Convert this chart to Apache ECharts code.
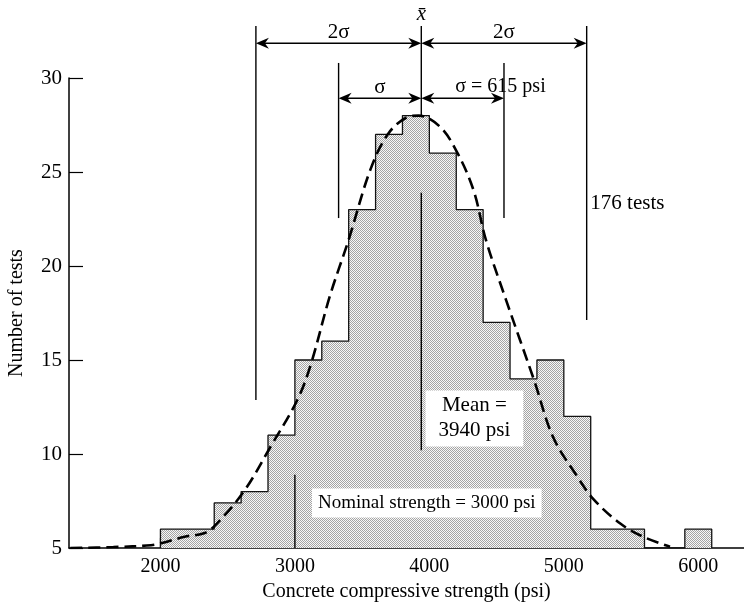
<!DOCTYPE html>
<html>
<head>
<meta charset="utf-8">
<script src="https://cdn.jsdelivr.net/npm/echarts@6/dist/echarts.min.js"></script>
<style>
  html, body { margin: 0; padding: 0; background: #fff; }
  #chart { width: 744px; height: 612px; }
</style>
</head>
<body>
<div id="chart"></div>
<script>
// Histogram: lower bin edge (psi) and bar height on the count axis
const binStart = [2000, 2200, 2400, 2600, 2800, 3000, 3200, 3400, 3600, 3800, 4000, 4200, 4400, 4600, 4800, 5000, 5200, 5400, 5900];
const binCount = [6, 6, 7.4, 8, 11, 15, 16, 23, 27, 28, 26, 23, 17, 14, 15, 12, 6, 6, 6];
const binWidth = 200;

// Fitted normal curve, sampled points (psi, count)
const curveX = [1330, 1650, 1930, 2020, 2180, 2330, 2420, 2620, 2820, 3020, 3120, 3260, 3400, 3560, 3690, 3830, 3920, 4080, 4210, 4330, 4420, 4570, 4780, 4920, 5100, 5220, 5420, 5590, 5790];
const curveY = [5.0, 5.05, 5.15, 5.28, 5.6, 5.8, 6.3, 8.0, 10.4, 12.9, 14.8, 18.4, 21.4, 25.1, 27.0, 27.9, 28.0, 27.4, 26.0, 24.0, 21.4, 18.2, 13.9, 10.9, 8.8, 7.6, 6.3, 5.6, 5.07];

// Axis ticks
const xTickLabels = [2000, 3000, 4000, 5000, 6000];
const xTickMarks = [2000, 3000, 4000, 5000];
const yTickLabels = [5, 10, 15, 20, 25, 30];

// Statistics shown on the chart
const meanPsi = 3940;
const nominalPsi = 3000;
const sigmaMarks = [2710, 3325, 4555, 5170];   // x̄ − 2σ, x̄ − σ, x̄ + σ, x̄ + 2σ with σ = 615 psi

// Axis ranges
const X_MIN = 1320, X_MAX = 6340;
const Y_MIN = 5, Y_MAX = 30;

// Plot rectangle; the annotation layer shares the x scale and the count scale,
// but reaches up to the top of the canvas
const PLOT = { left: 69, top: 78, width: 675, height: 470 };
const pxPerCount = PLOT.height / (Y_MAX - Y_MIN);
const Y_TOP_EXT = Y_MAX + PLOT.top / pxPerCount;

const FONT = 'Liberation Serif';
const INK = '#000';

// Step outline of the histogram, including the gap before the last bar
const histPts = [[binStart[0], Y_MIN]];
binStart.forEach((s, i) => {
  histPts.push([s, binCount[i]]);
  const end = s + binWidth;
  const next = binStart[i + 1];
  if (next === undefined || next !== end) histPts.push([end, Y_MIN]);
});

// Fine stipple used for the bars
function stipple() {
  const c = document.createElement('canvas');
  c.width = 2; c.height = 2;
  const g = c.getContext('2d');
  g.fillStyle = '#f8f8f8'; g.fillRect(0, 0, 2, 2);
  g.fillStyle = '#a4a4a4'; g.fillRect(0, 0, 1, 1); g.fillRect(1, 1, 1, 1);
  return c;
}

// Vertical guide lines: [x, yFrom, yTo]
const guideLines = [
  [sigmaMarks[0], 12.87, 32.77],
  [sigmaMarks[1], 22.55, 30.8],
  [meanPsi, 28.0, 32.77],
  [meanPsi, 10.2, 23.9],
  [sigmaMarks[2], 22.55, 30.8],
  [sigmaMarks[3], 17.13, 32.77],
  [nominalPsi, Y_MIN, 8.9]
];

// Dimension arrows: [xFrom, xTo, y]
const dimArrows = [
  [sigmaMarks[0], meanPsi, 31.85],
  [meanPsi, sigmaMarks[3], 31.85],
  [sigmaMarks[1], meanPsi, 28.92],
  [meanPsi, sigmaMarks[2], 28.92]
];

// Text notes placed in data coordinates
const notes = [
  { text: '2σ', at: [3325, 32.4], size: 21 },
  { text: '2σ', at: [4555, 32.4], size: 21 },
  { text: 'σ', at: [3632, 29.52], size: 21 },
  { text: 'σ = 615 psi', at: [4193, 29.52], size: 20, align: 'left' },
  { text: 'x\u0304', at: [3940, 33.4], size: 21, italic: true },
  { text: '176 tests', at: [5197, 23.35], size: 21, align: 'left' },
  { text: 'Mean =\n3940 psi', at: [4335, 11.89], size: 21, box: [3, 13], lineHeight: 25 },
  { text: 'Nominal strength = 3000 psi', at: [3981, 7.39], size: 19, box: [4, 6] }
];

const chart = echarts.init(document.getElementById('chart'), null, { renderer: 'canvas' });

const ARROW_L = 13, ARROW_W = 5.5, ARROW_N = 4;
function arrowHead(tip, dir) {
  return {
    type: 'polygon',
    shape: {
      points: [
        [tip[0], tip[1]],
        [tip[0] - dir * ARROW_L, tip[1] - ARROW_W],
        [tip[0] - dir * (ARROW_L - ARROW_N), tip[1]],
        [tip[0] - dir * ARROW_L, tip[1] + ARROW_W]
      ]
    },
    style: { fill: INK }
  };
}

chart.setOption({
  animation: false,
  backgroundColor: '#fff',
  grid: [
    { left: PLOT.left, top: PLOT.top, width: PLOT.width, height: PLOT.height, outerBoundsMode: 'none', containLabel: false },
    { left: PLOT.left, top: 0, width: PLOT.width, height: PLOT.top + PLOT.height, outerBoundsMode: 'none', containLabel: false }
  ],
  xAxis: [
    {
      type: 'value', gridIndex: 0, min: X_MIN, max: X_MAX,
      name: 'Concrete compressive strength (psi)',
      nameLocation: 'middle', nameGap: 34,
      nameTextStyle: { fontFamily: FONT, fontSize: 20, color: INK },
      axisLine: { onZero: false, lineStyle: { color: INK, width: 1.5 } },
      axisTick: { inside: true, length: 10, customValues: xTickMarks, lineStyle: { color: INK, width: 1.2 } },
      axisLabel: { customValues: xTickLabels, formatter: v => String(v), margin: 9, fontFamily: FONT, fontSize: 20, color: INK },
      splitLine: { show: false }
    },
    { type: 'value', gridIndex: 1, min: X_MIN, max: X_MAX, show: false }
  ],
  yAxis: [
    {
      type: 'value', gridIndex: 0, min: Y_MIN, max: Y_MAX, interval: 5,
      name: 'Number of tests',
      nameLocation: 'middle', nameGap: 42, nameRotate: 90,
      nameTextStyle: { fontFamily: FONT, fontSize: 20, color: INK },
      axisLine: { show: true, lineStyle: { color: INK, width: 1.5 } },
      axisTick: { show: true, inside: true, length: 14, customValues: yTickLabels, lineStyle: { color: INK, width: 1.2 } },
      axisLabel: { customValues: yTickLabels, formatter: v => String(v), margin: 7, fontFamily: FONT, fontSize: 21, color: INK },
      splitLine: { show: false }
    },
    { type: 'value', gridIndex: 1, min: Y_MIN, max: Y_TOP_EXT, show: false }
  ],
  series: [
    {
      name: 'Tests',
      type: 'line',
      xAxisIndex: 0, yAxisIndex: 0,
      step: 'end',
      data: histPts,
      symbol: 'none',
      silent: true,
      lineStyle: { color: '#111', width: 1.3 },
      areaStyle: { color: { image: stipple(), repeat: 'repeat' }, opacity: 1, origin: 'start' },
      z: 2
    },
    {
      name: 'Normal curve',
      type: 'line',
      xAxisIndex: 0, yAxisIndex: 0,
      smooth: 0.35,
      data: curveX.map((x, i) => [x, curveY[i]]),
      symbol: 'none',
      silent: true,
      lineStyle: { color: INK, width: 2.6, type: [12, 6] },
      z: 3
    },
    {
      name: 'Guides',
      type: 'custom',
      xAxisIndex: 1, yAxisIndex: 1,
      silent: true,
      data: guideLines,
      renderItem: (params, api) => {
        const p0 = api.coord([api.value(0), api.value(1)]);
        const p1 = api.coord([api.value(0), api.value(2)]);
        return {
          type: 'line',
          shape: { x1: p0[0], y1: p0[1], x2: p1[0], y2: p1[1] },
          style: { stroke: INK, lineWidth: 1.4 }
        };
      },
      z: 4
    },
    {
      name: 'Dimensions',
      type: 'custom',
      xAxisIndex: 1, yAxisIndex: 1,
      silent: true,
      data: dimArrows,
      renderItem: (params, api) => {
        const a = api.coord([api.value(0), api.value(2)]);
        const b = api.coord([api.value(1), api.value(2)]);
        return {
          type: 'group',
          children: [
            { type: 'line', shape: { x1: a[0] + 3, y1: a[1], x2: b[0] - 3, y2: b[1] }, style: { stroke: INK, lineWidth: 1.5 } },
            arrowHead(a, -1),
            arrowHead(b, 1)
          ]
        };
      },
      z: 4
    },
    {
      name: 'Notes',
      type: 'scatter',
      xAxisIndex: 1, yAxisIndex: 1,
      silent: true,
      symbolSize: 1,
      itemStyle: { color: 'rgba(0,0,0,0)', opacity: 1 },
      data: notes.map(n => ({
        value: n.at,
        label: {
          show: true,
          position: 'inside',
          formatter: n.text,
          fontFamily: FONT,
          fontSize: n.size,
          fontStyle: n.italic ? 'italic' : 'normal',
          color: INK,
          opacity: 1,
          align: n.align || 'center',
          verticalAlign: 'middle',
          lineHeight: n.lineHeight || n.size + 2,
          backgroundColor: n.box ? '#fff' : 'transparent',
          padding: n.box || 0
        }
      })),
      z: 6
    }
  ]
});
</script>
</body>
</html>
